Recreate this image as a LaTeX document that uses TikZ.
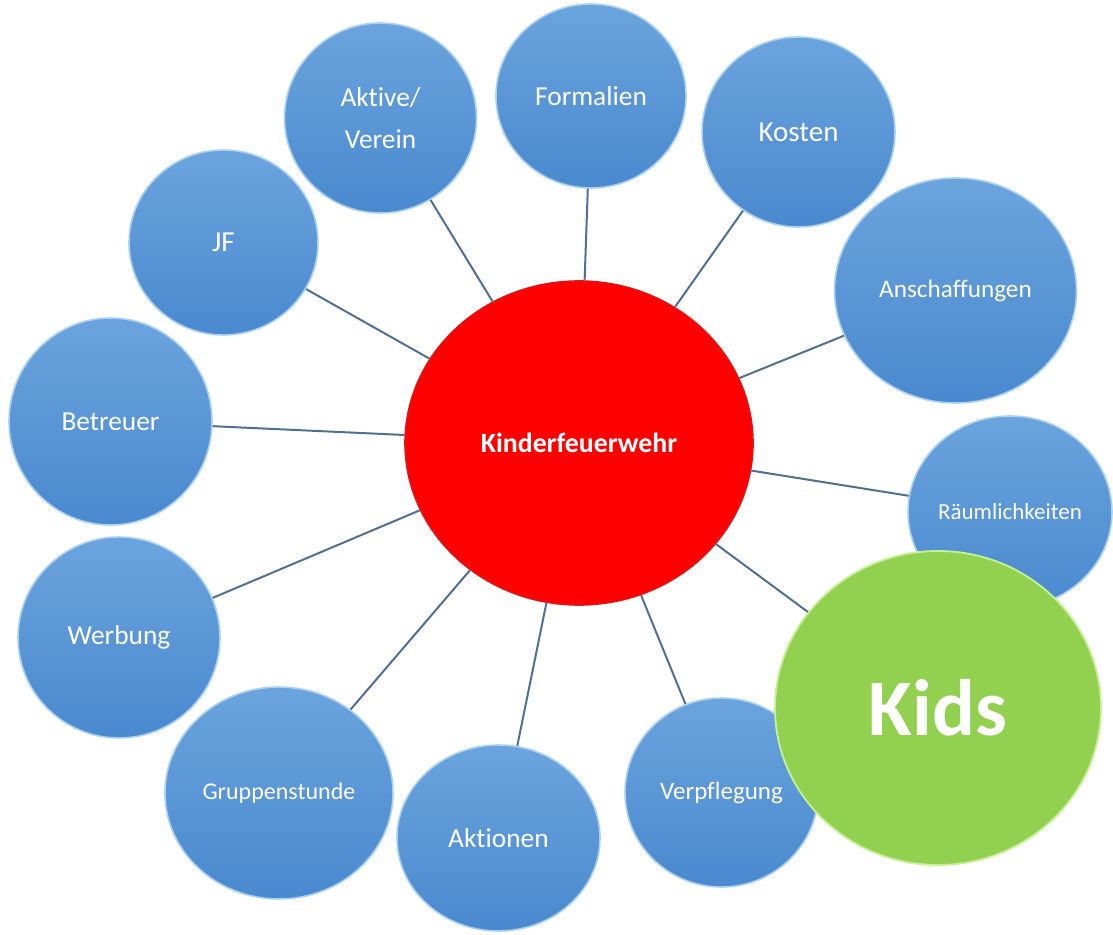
\documentclass[tikz,border=0pt]{standalone}
\usepackage{fontspec}
\setmainfont{Carlito}[Ligatures=NoCommon]
\usetikzlibrary{shapes.geometric}
\definecolor{bubtop}{HTML}{6BA4DD}
\definecolor{bubbot}{HTML}{4A89CF}
\definecolor{bubrim}{HTML}{A9D2F2}
\definecolor{conncol}{HTML}{4F7093}
\definecolor{hubred}{HTML}{FF0000}
\definecolor{kidgreen}{HTML}{92D050}
\tikzset{
  bubble/.style={ellipse, top color=bubtop, bottom color=bubbot, draw=bubrim,
    line width=0.8pt, text=white, align=center, inner sep=0pt,
    font=\fontsize{13.7}{21}\selectfont},
  hub/.style={ellipse, fill=hubred, draw={rgb,255:red,225;green,20;blue,20}, line width=0.8pt,
    text=white, inner sep=0pt, font=\fontsize{13.9}{17}\selectfont\bfseries},
  kidsbubble/.style={ellipse, fill=kidgreen, draw={rgb,255:red,200;green,240;blue,150}, line width=0.9pt,
    text=white, inner sep=0pt, font=\fontsize{40}{48}\selectfont\bfseries},
  conn/.style={draw=conncol, line width=1pt}
}
\begin{document}
\begin{tikzpicture}[x=0.5pt,y=-0.5pt]
\useasboundingbox (0,0) rectangle (1113,935);
% hub
\node[hub, minimum width=174pt, minimum height=162pt] (hub) at (579,443) {Kinderfeuerwehr};
% satellites
\node[bubble, minimum width=96pt, minimum height=95pt] (aktive) at (380.5,118) {Aktive/\\Verein};
\node[bubble, minimum width=95pt, minimum height=92pt] (formalien) at (591,96) {Formalien};
\node[bubble, minimum width=96.5pt, minimum height=95pt, font=\fontsize{14.5}{17}\selectfont] (kosten) at (798.5,132) {Kosten};
\node[bubble, minimum width=121pt, minimum height=112.5pt, font=\fontsize{12.6}{15}\selectfont] (ansch) at (955.5,290.5) {Anschaffungen};
\node[bubble, minimum width=102pt, minimum height=96pt, font=\fontsize{11.5}{14}\selectfont] (raum) at (1010,512) {Räumlichkeiten};
\node[bubble, minimum width=96.5pt, minimum height=94.5pt, font=\fontsize{12.5}{15}\selectfont] (verpf) at (721.5,792.5) {Verpflegung};
\node[bubble, minimum width=101.5pt, minimum height=93pt] (aktionen) at (498.5,838) {Aktionen};
\node[bubble, minimum width=114pt, minimum height=106pt, font=\fontsize{12}{15}\selectfont] (gruppe) at (279,793) {Gruppenstunde};
\node[bubble, minimum width=101pt, minimum height=100.5pt] (werbung) at (119,637.5) {Werbung};
\node[bubble, minimum width=101.5pt, minimum height=103.5pt] (betreuer) at (110.5,421.5) {Betreuer};
\node[bubble, minimum width=94.5pt, minimum height=92.5pt, font=\fontsize{14.5}{17}\selectfont] (jf) at (223.5,242.5) {JF};
% kids on top
\node[kidsbubble, minimum width=163pt, minimum height=157pt] (kids) at (938,708) {Kids};
% connectors
\foreach \t in {aktive,formalien,kosten,ansch,raum,kids,verpf,aktionen,gruppe,werbung,betreuer,jf}
  \draw[conn] (hub) -- (\t);
\end{tikzpicture}
\end{document}
